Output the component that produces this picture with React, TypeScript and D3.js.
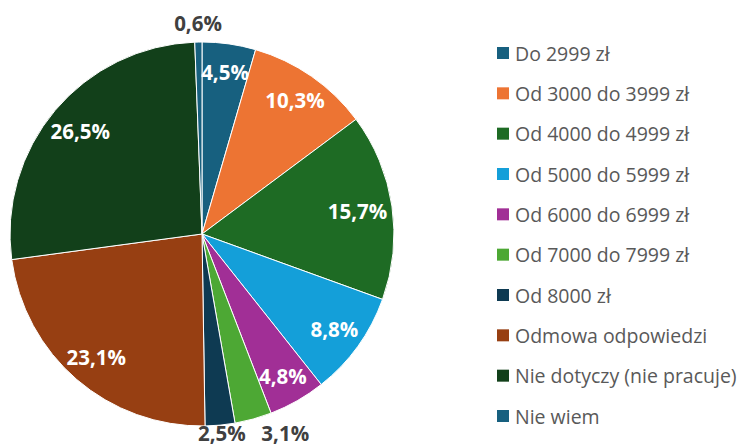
import React from "react";
import * as d3 from "d3";

const categories = [
  "Do 2999 zł",
  "Od 3000 do 3999 zł",
  "Od 4000 do 4999 zł",
  "Od 5000 do 5999 zł",
  "Od 6000 do 6999 zł",
  "Od 7000 do 7999 zł",
  "Od 8000 zł",
  "Odmowa odpowiedzi",
  "Nie dotyczy (nie pracuje)",
  "Nie wiem",
];
const values = [4.5, 10.3, 15.7, 8.8, 4.8, 3.1, 2.5, 23.1, 26.5, 0.6];
const labels = ["4,5%", "10,3%", "15,7%", "8,8%", "4,8%", "3,1%", "2,5%", "23,1%", "26,5%", "0,6%"];
const colors = [
  "#17607F",
  "#ED7433",
  "#1E6B24",
  "#149FD9",
  "#A12F96",
  "#4DA834",
  "#0E3A52",
  "#973F12",
  "#12401A",
  "#17607F",
];

const W = 739;
const H = 446;
const cx = 202;
const cy = 234;
const R = 192;
const LABEL_FS = 20.5;

function estWidth(s: string) {
  let w = 0;
  for (const ch of s) {
    if (ch === ",") w += 0.3;
    else if (ch === "%") w += 0.87;
    else w += 0.57;
  }
  return w * LABEL_FS;
}

export default function App() {
  const pie = d3.pie<number>().value((d) => d).sort(null);
  const arcs = pie(values);
  const arc = d3.arc<d3.PieArcDatum<number>>().innerRadius(0).outerRadius(R);
  const fontFam = "'Open Sans', 'DejaVu Sans', sans-serif";
  const legendY = d3.scaleLinear().domain([0, categories.length - 1]).range([53, 416]);

  // label placement
  const pos = arcs.map((a, i) => {
    const mid = (a.startAngle + a.endAngle) / 2;
    const small = values[i] < 4;
    const hw = estWidth(labels[i]) / 2;
    const hh = LABEL_FS * 0.36;
    let r = small ? R + 19 : R * 0.85;
    let x = Math.sin(mid) * r;
    let y = -Math.cos(mid) * r;
    if (!small) {
      const fits = (px: number, py: number) =>
        [[px - hw, py - hh], [px + hw, py - hh], [px - hw, py + hh], [px + hw, py + hh]].every(
          ([qx, qy]) => Math.hypot(qx, qy) <= R - 4
        );
      while (!fits(x, y) && r > 40) {
        r -= 1;
        x = Math.sin(mid) * r;
        y = -Math.cos(mid) * r;
      }
    } else {
      const maxY = H - 13 - cy;
      if (y > maxY) y = maxY;
    }
    return { x, y, small, hw, mid };
  });
  // resolve overlaps among outside labels near the bottom: push the one farther from bottom
  const outside = pos
    .map((p, i) => ({ p, i }))
    .filter((o) => o.p.small && o.p.y > 0)
    .sort((a, b) => Math.abs(a.p.mid - Math.PI) - Math.abs(b.p.mid - Math.PI));
  for (let k = 1; k < outside.length; k++) {
    const cur = outside[k].p;
    for (let j = 0; j < k; j++) {
      const prev = outside[j].p;
      const gap = cur.hw + prev.hw + 16;
      if (Math.abs(cur.x - prev.x) < gap) {
        cur.x = cur.mid < Math.PI ? prev.x + gap : prev.x - gap;
      }
    }
  }

  return (
    <svg width={W} height={H} style={{ position: "absolute", left: 0, top: 0 }}>
      <rect width={W} height={H} fill="#fff" />
      <g transform={`translate(${cx},${cy})`}>
        {arcs.map((a, i) => (
          <path key={i} d={arc(a) || ""} fill={colors[i]} stroke="#fff" strokeWidth={1} />
        ))}
        {pos.map((p, i) => (
          <text
            key={i}
            x={p.x}
            y={p.y}
            textAnchor="middle"
            dominantBaseline="central"
            fontFamily={fontFam}
            fontWeight={700}
            fontSize={LABEL_FS}
            fill={p.small ? "#404040" : "#fff"}
          >
            {labels[i]}
          </text>
        ))}
      </g>
      <g>
        {categories.map((c, i) => (
          <g key={i} transform={`translate(497,${legendY(i)})`}>
            <rect x={0} y={-6} width={12} height={12} fill={colors[i]} />
            <text x={18} y={0} dominantBaseline="central" fontFamily={fontFam} fontSize={19.5} fill="#595959">
              {c}
            </text>
          </g>
        ))}
      </g>
    </svg>
  );
}
